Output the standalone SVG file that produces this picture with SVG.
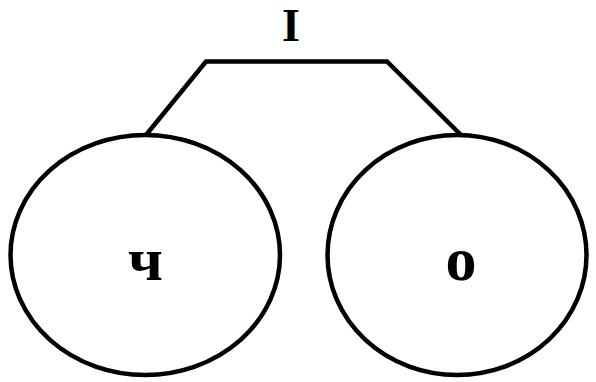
<svg xmlns="http://www.w3.org/2000/svg" width="596" height="382" viewBox="0 0 596 382">
<style>
.n{fill:#fff;stroke:#000;stroke-width:4.5}
.c{fill:none;stroke:#000;stroke-width:4.5;stroke-linejoin:miter}
.t{font-family:"Liberation Serif","Times New Roman",serif;font-weight:bold;fill:#000;text-anchor:middle}
</style>
<rect width="596" height="382" fill="#fff"/>
<g id="connectors">
<polyline class="c" points="146,135 206,61.5 387,61.5 461,135"/>
</g>
<g id="root">
<text class="t" x="291" y="41" font-size="46">I</text>
</g>
<g id="node-ch">
<ellipse class="n" cx="145.25" cy="255" rx="134.75" ry="120"/>
<text class="t" x="145.5" y="280" font-size="62">ч</text>
</g>
<g id="node-o">
<ellipse class="n" cx="457" cy="255" rx="129.5" ry="120"/>
<text class="t" x="461" y="280" font-size="62">о</text>
</g>
</svg>
